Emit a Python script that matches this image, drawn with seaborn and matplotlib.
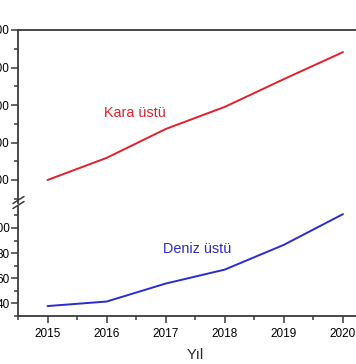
import matplotlib
matplotlib.use("Agg")
import matplotlib.pyplot as plt
from matplotlib.ticker import MultipleLocator
import seaborn as sns
import pandas as pd

# Values
years = [2015, 2016, 2017, 2018, 2019, 2020]
kara = [200, 259, 336, 395, 469, 541]
deniz = [37.9, 41.5, 55.8, 66.9, 86.6, 111]
top_ticks = [200, 300, 400, 500, 600]
bottom_ticks = [40, 60, 80, 100]

sns.set_style("ticks")
plt.rcParams['font.family'] = ['Liberation Sans', 'DejaVu Sans']

df = pd.DataFrame({"Yıl": years, "Kara üstü": kara, "Deniz üstü": deniz})

W, H = 356, 364
fig = plt.figure(figsize=(W / 100, H / 100), dpi=100)

left = 18 / W
width = (372.5 - 18) / W
ax_top = fig.add_axes([left, (H - 202.5) / H, width, (202.5 - 30) / H])
ax_bot = fig.add_axes([left, (H - 316) / H, width, (316 - 206.6) / H])

red = "#e3202a"
blue = "#2b2bd2"
spine_col = "#3a3a3a"

sns.lineplot(data=df, x="Yıl", y="Kara üstü", ax=ax_top, color=red, linewidth=1.4)
sns.lineplot(data=df, x="Yıl", y="Deniz üstü", ax=ax_bot, color=blue, linewidth=1.4)

for ax in (ax_top, ax_bot):
    ax.set_xlim(2014.5, 2020.5)
    ax.set_ylabel("")
    ax.xaxis.set_minor_locator(MultipleLocator(0.5))
    ax.tick_params(which="both", direction="out", colors=spine_col, labelcolor="black",
                   labelsize=8.5, width=1.1)
    ax.tick_params(which="major", length=5)
    ax.tick_params(which="minor", length=3)
    ax.tick_params(axis="y", which="major", pad=1)
    for s in ax.spines.values():
        s.set_color(spine_col)
        s.set_linewidth(1.3)

# top panel
ax_top.set_ylim(140, 600)
ax_top.set_yticks(top_ticks)
ax_top.yaxis.set_minor_locator(MultipleLocator(50))
ax_top.spines["bottom"].set_visible(False)
ax_top.spines["top"].set_visible(True)
ax_top.tick_params(axis="x", which="both", bottom=False, labelbottom=False)
ax_top.set_xlabel("")

# bottom panel
ax_bot.set_ylim(30, 117)
ax_bot.set_yticks(bottom_ticks)
ax_bot.yaxis.set_minor_locator(MultipleLocator(10))
ax_bot.spines["top"].set_visible(False)
ax_bot.set_xticks(years)
ax_bot.set_xlabel("Yıl", fontsize=10.5, labelpad=6)

ax_top.text(2016.47, 378, "Kara üstü", color=red, fontsize=10.4, ha="center", va="center")
ax_bot.text(2017.53, 83.5, "Deniz üstü", color=blue, fontsize=10.4, ha="center", va="center")

# break marks on the left axis
for y0 in (203.5, 208.5):
    fig.add_artist(plt.Line2D([13 / W, 24 / W], [(H - y0) / H, (H - y0 + 7) / H],
                              transform=fig.transFigure, color=spine_col, linewidth=1.1))

fig.savefig("out.png", dpi=100)
